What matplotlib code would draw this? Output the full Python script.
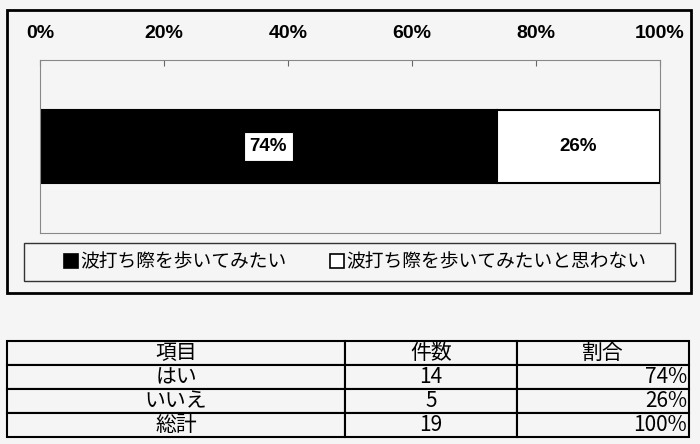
import matplotlib
matplotlib.use("Agg")
import matplotlib.pyplot as plt
from matplotlib.patches import Rectangle, Patch
from matplotlib.table import Table

# data
series = ["波打ち際を歩いてみたい", "波打ち際を歩いてみたいと思わない"]
header = ["項目", "件数", "割合"]
items = ["はい", "いいえ", "総計"]
counts = [14, 5, 19]
ratio_labels = ["74%", "26%", "100%"]
ticks = [0, 20, 40, 60, 80, 100]

W, H = 700, 444
BG = "#f5f5f5"


def box(x0, y0, x1, y1):
    # pixel box (origin top-left) -> figure fraction [l, b, w, h]
    return [x0 / W, 1 - y1 / H, (x1 - x0) / W, (y1 - y0) / H]


plt.rcParams['font.family'] = ['Noto Sans CJK JP', 'DejaVu Sans']
fig = plt.figure(figsize=(7, 4.44), dpi=100, facecolor=BG)

# outer chart frame
fig.patches.append(Rectangle(box(7, 10, 691, 293)[:2], 684 / W, 283 / H,
                             transform=fig.transFigure, fill=False, lw=2, ec="black"))

ax = fig.add_axes(box(40, 60, 660, 233))
ax.set_facecolor(BG)

total = counts[-1]
shares = [c / total * 100 for c in counts[:2]]
colors = ["black", "white"]
left = 0
for i, (name, share, col) in enumerate(zip(series, shares, colors)):
    bars = ax.barh(0, share, left=left, height=0.42, color=col,
                   edgecolor="black", lw=1.5, label=name)
    bb = dict(boxstyle="square,pad=0.3", fc="white", ec="black", lw=0.8) if i == 0 else None
    ax.bar_label(bars, labels=[ratio_labels[i]], label_type="center",
                 fontsize=13.5, fontweight="bold", family="Liberation Sans", bbox=bb)
    left += share

ax.set_xlim(0, 100)
ax.set_ylim(-0.5, 0.5)
ax.set_yticks([])
ax.xaxis.set_ticks_position("top")
ax.set_xticks(ticks, labels=[f"{t}%" for t in ticks],
              fontweight="bold", family="Liberation Sans", fontsize=14)
ax.tick_params(axis="x", direction="in", length=4, pad=13, color="#666")
for sp in ax.spines.values():
    sp.set_color("#888")
    sp.set_linewidth(0.8)

# legend
fig.patches.append(Rectangle(box(24, 243, 675, 281)[:2], 651 / W, 38 / H,
                             transform=fig.transFigure, fill=False, lw=1, ec="#333"))
handles = [Patch(fc=c, ec="black", lw=1.2) for c in colors]
fig.legend(handles, series, loc="center", bbox_to_anchor=box(56, 243, 654, 281),
           mode="expand", ncol=2, frameon=False, fontsize=13.5,
           handlelength=0.75, handleheight=0.75, handletextpad=0.15, borderaxespad=0)

# table
tab_ax = fig.add_axes(box(7, 341, 689, 437))
tab_ax.axis("off")
tbl = Table(tab_ax, bbox=[0, 0, 1, 1])
col_w = [338 / 682, 172 / 682, 172 / 682]
rows = [header] + [[it, str(c), r] for it, c, r in zip(items, counts, ratio_labels)]
for i, row in enumerate(rows):
    for j, txt in enumerate(row):
        loc = "right" if (j == 2 and i > 0) else "center"
        cell = tbl.add_cell(i, j, width=col_w[j], height=1, text=txt, loc=loc,
                            facecolor=BG, edgecolor="black")
        cell.PAD = 0.01
        cell.set_linewidth(1.5)
tbl.auto_set_font_size(False)
tbl.set_fontsize(15)
tab_ax.add_table(tbl)

fig.savefig("out.png", dpi=100, facecolor=BG)
